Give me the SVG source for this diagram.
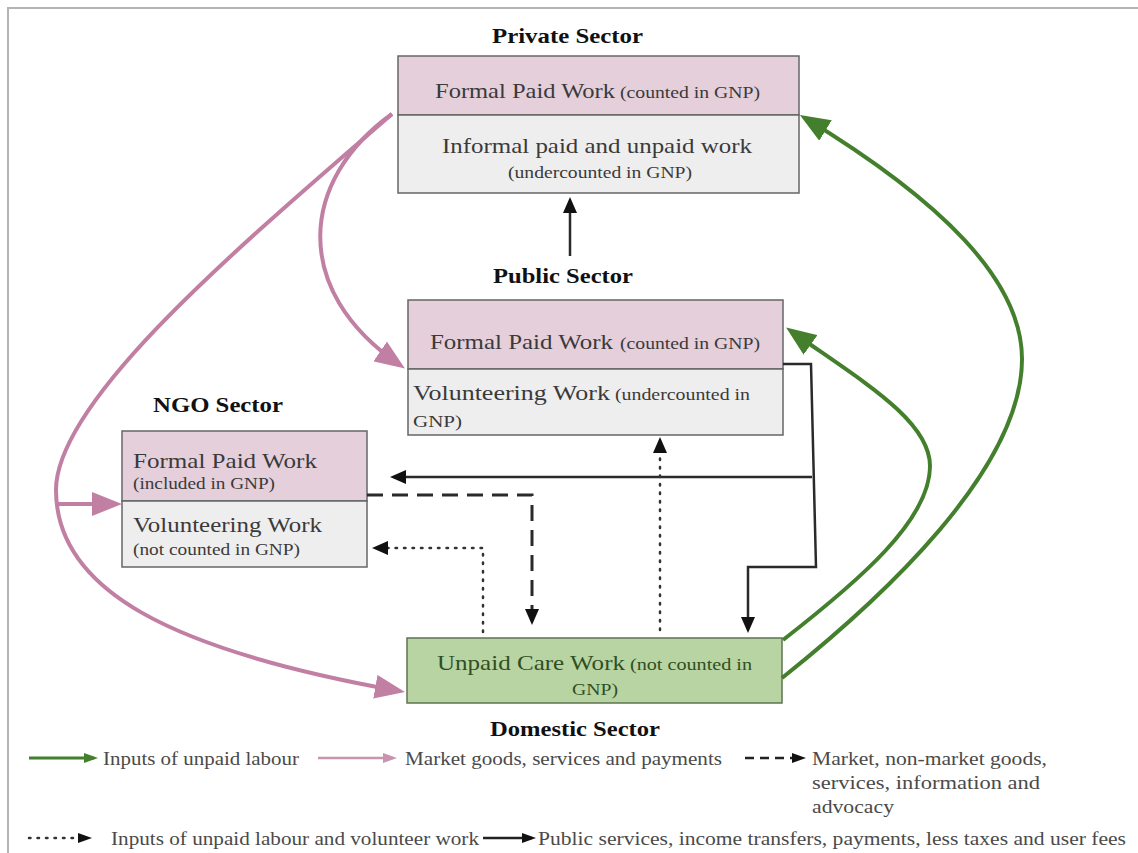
<svg xmlns="http://www.w3.org/2000/svg" width="1138" height="853" viewBox="0 0 1138 853">
<style>
.t{font-family:"Liberation Serif","Times New Roman",serif;fill:#3a3a3a}
.m{font-size:22px}
.s{font-size:16px}
.h{font-size:21px;font-weight:bold;fill:#111}
.lg{font-size:18px;fill:#4a4a4a}
.g{fill:#2f4f22}
.pk{fill:#e4cfdb;stroke:#666;stroke-width:1.5}
.gy{fill:#efeeee;stroke:#666;stroke-width:1.5}
.gn{fill:#b8d4a3;stroke:#5f7352;stroke-width:1.5}
.pl{fill:none;stroke:#c07fa3;stroke-width:4}
.gl{fill:none;stroke:#437f2c;stroke-width:4}
.bl{fill:none;stroke:#2a2a2a;stroke-width:2.5}
.ds{fill:none;stroke:#2a2a2a;stroke-width:3;stroke-dasharray:16 9}
.dt{fill:none;stroke:#333;stroke-width:2.5;stroke-dasharray:1.5 7;stroke-linecap:round}
</style>
<defs>
<marker id="hp" markerUnits="userSpaceOnUse" markerWidth="30" markerHeight="24" viewBox="0 0 30 24" refX="24" refY="12" orient="auto"><path d="M0,0 L30,12 L0,24 z" fill="#c07fa3"/></marker>
<marker id="hg" markerUnits="userSpaceOnUse" markerWidth="30" markerHeight="24" viewBox="0 0 30 24" refX="24" refY="12" orient="auto"><path d="M0,0 L30,12 L0,24 z" fill="#437f2c"/></marker>
<marker id="hb" markerUnits="userSpaceOnUse" markerWidth="16" markerHeight="14" viewBox="0 0 16 14" refX="12" refY="7" orient="auto"><path d="M0,0 L16,7 L0,14 z" fill="#111"/></marker>
<marker id="sg" markerUnits="userSpaceOnUse" markerWidth="14" markerHeight="10" viewBox="0 0 14 10" refX="10" refY="5" orient="auto"><path d="M0,0 L14,5 L0,10 z" fill="#437f2c"/></marker>
<marker id="sp" markerUnits="userSpaceOnUse" markerWidth="14" markerHeight="10" viewBox="0 0 14 10" refX="10" refY="5" orient="auto"><path d="M0,0 L14,5 L0,10 z" fill="#c894b0"/></marker>
<marker id="sb" markerUnits="userSpaceOnUse" markerWidth="14" markerHeight="10" viewBox="0 0 14 10" refX="10" refY="5" orient="auto"><path d="M0,0 L14,5 L0,10 z" fill="#111"/></marker>
</defs>
<rect width="1138" height="853" fill="#fff"/>
<path d="M8,853 V8 H1138" stroke="#b4b4b4" stroke-width="2" fill="none"/>

<g id="private">
<rect class="pk" x="398" y="56" width="401" height="59"/>
<rect class="gy" x="398" y="115" width="401" height="78"/>
<text class="t h" x="492" y="43" textLength="151" lengthAdjust="spacingAndGlyphs">Private Sector</text>
<text class="t m" x="435" y="98" textLength="180" lengthAdjust="spacingAndGlyphs">Formal Paid Work</text>
<text class="t s" x="620" y="98" textLength="140" lengthAdjust="spacingAndGlyphs">(counted in GNP)</text>
<text class="t m" x="442" y="153" textLength="310" lengthAdjust="spacingAndGlyphs">Informal paid and unpaid work</text>
<text class="t s" x="508" y="178" textLength="184" lengthAdjust="spacingAndGlyphs">(undercounted in GNP)</text>
</g>

<g id="public">
<rect class="pk" x="408" y="300" width="375" height="69"/>
<rect class="gy" x="408" y="369" width="375" height="66"/>
<text class="t h" x="493" y="283" textLength="140" lengthAdjust="spacingAndGlyphs">Public Sector</text>
<text class="t m" x="430" y="349" textLength="183" lengthAdjust="spacingAndGlyphs">Formal Paid Work</text>
<text class="t s" x="620" y="349" textLength="140" lengthAdjust="spacingAndGlyphs">(counted in GNP)</text>
<text class="t m" x="413" y="400" textLength="197" lengthAdjust="spacingAndGlyphs">Volunteering Work</text>
<text class="t s" x="615" y="400" textLength="135" lengthAdjust="spacingAndGlyphs">(undercounted in</text>
<text class="t s" x="413" y="427" textLength="49" lengthAdjust="spacingAndGlyphs">GNP)</text>
</g>

<g id="ngo">
<rect class="pk" x="122" y="431" width="245" height="70"/>
<rect class="gy" x="122" y="501" width="245" height="66"/>
<text class="t h" x="153" y="412" textLength="130" lengthAdjust="spacingAndGlyphs">NGO Sector</text>
<text class="t m" x="133" y="468" textLength="184" lengthAdjust="spacingAndGlyphs">Formal Paid Work</text>
<text class="t s" x="133" y="489" textLength="142" lengthAdjust="spacingAndGlyphs">(included in GNP)</text>
<text class="t m" x="133" y="532" textLength="189" lengthAdjust="spacingAndGlyphs">Volunteering Work</text>
<text class="t s" x="133" y="555" textLength="167" lengthAdjust="spacingAndGlyphs">(not counted in GNP)</text>
</g>

<g id="domestic">
<rect class="gn" x="407" y="638" width="375" height="65"/>
<text class="t m g" x="437" y="670" textLength="188" lengthAdjust="spacingAndGlyphs">Unpaid Care Work</text>
<text class="t s g" x="630" y="670" textLength="122" lengthAdjust="spacingAndGlyphs">(not counted in</text>
<text class="t s g" x="572" y="695" textLength="46" lengthAdjust="spacingAndGlyphs">GNP)</text>
<text class="t h" x="490" y="736" textLength="170" lengthAdjust="spacingAndGlyphs">Domestic Sector</text>
</g>

<g id="connectors">
<path class="pl" d="M392,114 C300,180 290,290 400,365" marker-end="url(#hp)"/>
<path class="pl" d="M392,114 C242,244 56,400 56,490 C56,590 170,650 399,691" marker-end="url(#hp)"/>
<path class="pl" d="M57,504 L116,504" marker-end="url(#hp)"/>
<path class="gl" d="M783,640 C860,580 930,520 930,466 C930,420 860,380 791,331" marker-end="url(#hg)"/>
<path class="gl" d="M782,678 C880,600 1022,470 1022,359 C1022,280 940,200 805,118" marker-end="url(#hg)"/>
<path class="bl" d="M570,256 L570,201" marker-end="url(#hb)"/>
<path class="bl" d="M783,364 L811,364 L816,567 L748,567 L748,629" marker-end="url(#hb)"/>
<path class="bl" d="M812,477 L394,477" marker-end="url(#hb)"/>
<path class="ds" d="M367,495 H532 V621" marker-end="url(#hb)"/>
<path class="dt" d="M483,632 V548 H376" marker-end="url(#hb)"/>
<path class="dt" d="M660,630 V441" marker-end="url(#hb)"/>
</g>

<g id="legend">
<path d="M29,758 L94,758" stroke="#437f2c" stroke-width="3" fill="none" marker-end="url(#sg)"/>
<text class="t lg" x="103" y="765" textLength="196" lengthAdjust="spacingAndGlyphs">Inputs of unpaid labour</text>
<path d="M318,758 L393,758" stroke="#c894b0" stroke-width="2.5" fill="none" marker-end="url(#sp)"/>
<text class="t lg" x="405" y="765" textLength="317" lengthAdjust="spacingAndGlyphs">Market goods, services and payments</text>
<path d="M745,758 L802,758" stroke="#222" stroke-width="2.5" stroke-dasharray="9 6" fill="none" marker-end="url(#sb)"/>
<text class="t lg" x="812" y="765" textLength="235" lengthAdjust="spacingAndGlyphs">Market, non-market goods,</text>
<text class="t lg" x="812" y="789" textLength="228" lengthAdjust="spacingAndGlyphs">services, information and</text>
<text class="t lg" x="812" y="813" textLength="82" lengthAdjust="spacingAndGlyphs">advocacy</text>
<path d="M29,838 L88,838" stroke="#333" stroke-width="2.5" stroke-dasharray="1.5 7" stroke-linecap="round" fill="none" marker-end="url(#sb)"/>
<text class="t lg" x="111" y="845" textLength="368" lengthAdjust="spacingAndGlyphs">Inputs of unpaid labour and volunteer work</text>
<path d="M483,838 L532,838" stroke="#222" stroke-width="2.5" fill="none" marker-end="url(#sb)"/>
<text class="t lg" x="538" y="845" textLength="588" lengthAdjust="spacingAndGlyphs">Public services, income transfers, payments, less taxes and user fees</text>
</g>
</svg>
